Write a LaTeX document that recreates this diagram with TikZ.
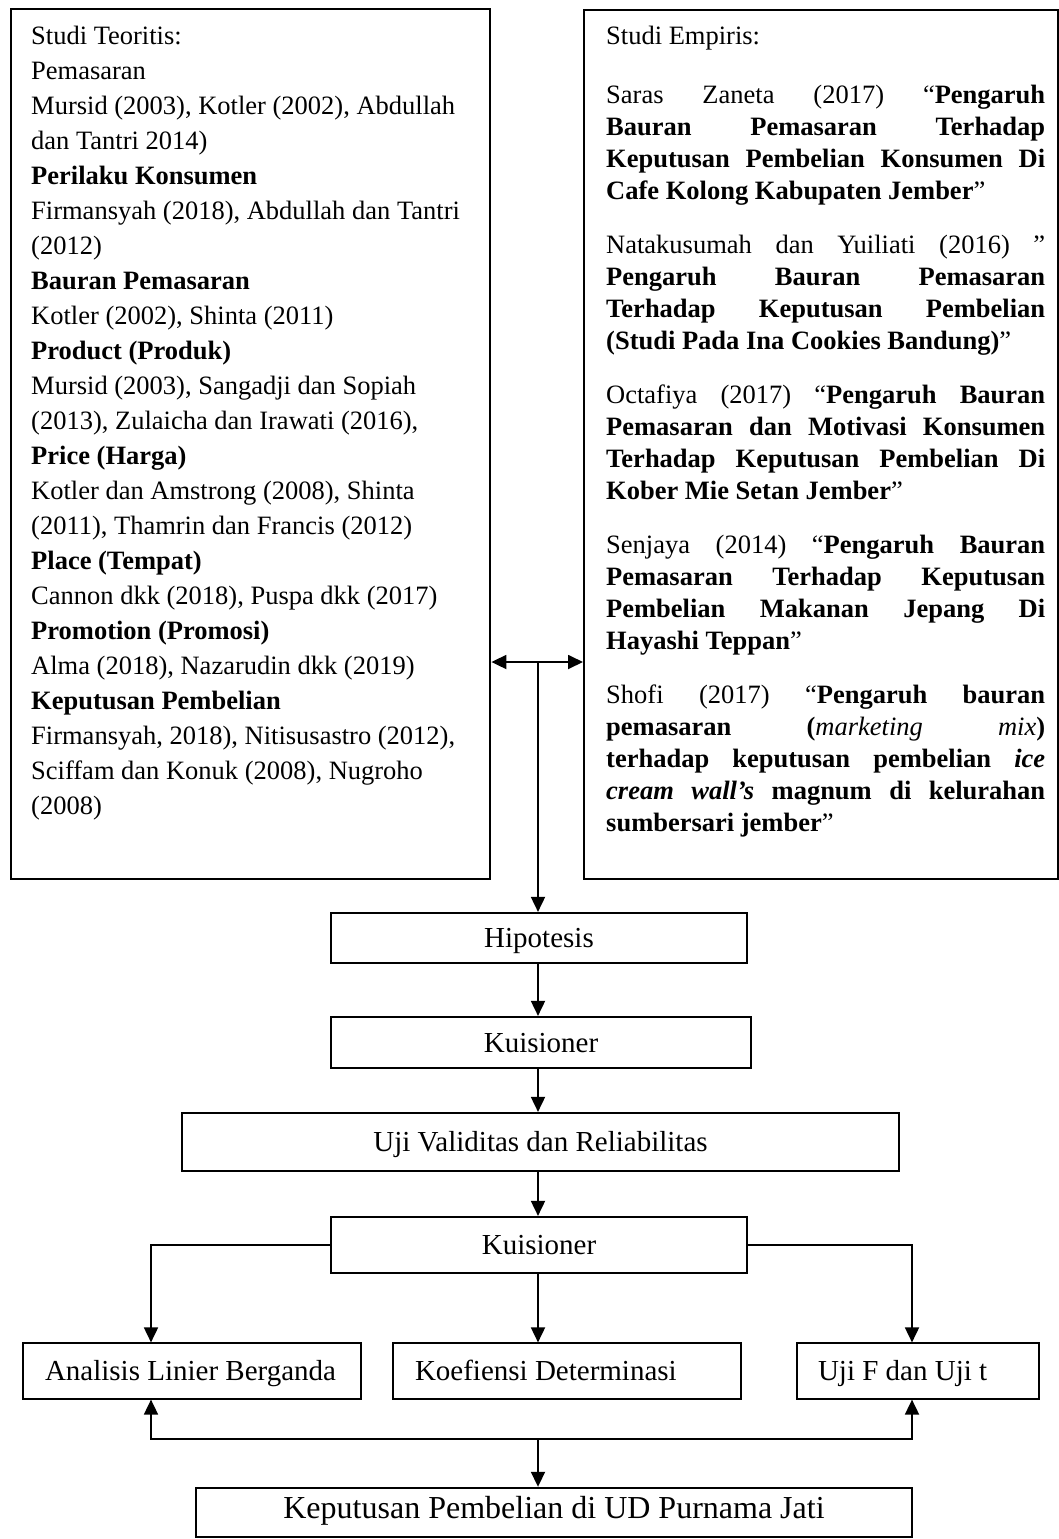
\documentclass[tikz,border=0pt]{standalone}
\usepackage{fontspec}
\setmainfont{Liberation Serif}
\usetikzlibrary{arrows.meta}
\newlength\rw
\setlength\rw{439pt}
\newcommand\jl[1]{\makebox[\rw][s]{#1}}
\begin{document}
\begin{tikzpicture}[x=1pt,y=-1pt,
  bigbox/.style={draw, line width=2.4pt, inner sep=0pt, anchor=north west},
  midbox/.style={draw, line width=2.2pt, inner sep=0pt, font=\fontsize{29}{35}\selectfont, text height=25pt, text depth=6pt},
  thinbox/.style={draw, line width=1.2pt, inner sep=0pt, font=\fontsize{29}{35}\selectfont, text height=24pt, text depth=6pt},
  conn/.style={line width=1.8pt, line cap=rect},
  arr/.style={conn, -{Triangle[length=15pt,width=14pt]}},
  txt/.style={anchor=north west, inner sep=0pt, align=left},
]
\useasboundingbox[fill=white] (0,0) rectangle (1059,1539);

% top boxes
\node[bigbox, minimum width=479pt, minimum height=870pt] (teori) at (10,8) {};
\node[bigbox, minimum width=474pt, minimum height=869pt] (empiris) at (583,9) {};

\node[txt, font=\fontsize{26.5}{35}\selectfont] (teoritext) at (31,20) {\strut Studi Teoritis:\\
Pemasaran\\
Mursid (2003), Kotler (2002), Abdullah\\
dan Tantri 2014)\\
\textbf{Perilaku Konsumen}\\
Firmansyah (2018), Abdullah dan Tantri\\
(2012)\\
\textbf{Bauran Pemasaran}\\
Kotler (2002), Shinta (2011)\\
\textbf{Product (Produk)}\\
Mursid (2003), Sangadji dan Sopiah\\
(2013), Zulaicha dan Irawati (2016),\\
\textbf{Price (Harga)}\\
Kotler dan Amstrong (2008), Shinta\\
(2011), Thamrin dan Francis (2012)\\
\textbf{Place (Tempat)}\\
Cannon dkk (2018), Puspa dkk (2017)\\
\textbf{Promotion (Promosi)}\\
Alma (2018), Nazarudin dkk (2019)\\
\textbf{Keputusan Pembelian}\\
Firmansyah, 2018), Nitisusastro (2012),\\
Sciffam dan Konuk (2008), Nugroho\\
(2008)};

\node[txt, font=\fontsize{26.5}{32}\selectfont] (empiristext) at (606,22.1) {\strut Studi Empiris:\\[27pt]
\jl{Saras Zaneta (2017) “\textbf{Pengaruh}}\\
\jl{\textbf{Bauran Pemasaran Terhadap}}\\
\jl{\textbf{Keputusan Pembelian Konsumen Di}}\\
\textbf{Cafe Kolong Kabupaten Jember}”\\[22pt]
\jl{Natakusumah dan Yuiliati (2016) ”}\\
\jl{\textbf{Pengaruh Bauran Pemasaran}}\\
\jl{\textbf{Terhadap Keputusan Pembelian}}\\
\textbf{(Studi Pada Ina Cookies Bandung)}”\\[22pt]
\jl{Octafiya (2017) “\textbf{Pengaruh Bauran}}\\
\jl{\textbf{Pemasaran dan Motivasi Konsumen}}\\
\jl{\textbf{Terhadap Keputusan Pembelian Di}}\\
\textbf{Kober Mie Setan Jember}”\\[22pt]
\jl{Senjaya (2014) “\textbf{Pengaruh Bauran}}\\
\jl{\textbf{Pemasaran Terhadap Keputusan}}\\
\jl{\textbf{Pembelian Makanan Jepang Di}}\\
\textbf{Hayashi Teppan}”\\[22pt]
\jl{Shofi (2017) “\textbf{Pengaruh bauran}}\\
\jl{\textbf{pemasaran (}\textit{marketing} \textit{mix}\textbf{)}}\\
\jl{\textbf{terhadap keputusan pembelian \textit{ice}}}\\
\jl{\textbf{\textit{cream wall’s} magnum di kelurahan}}\\
\textbf{sumbersari jember}”};

% middle chain
\node[midbox, minimum width=416pt, minimum height=50pt] (hip) at (539,938) {Hipotesis};
\node[midbox, minimum width=420pt, minimum height=51pt] (kui1) at (541,1042.5) {Kuisioner};
\node[midbox, minimum width=717pt, minimum height=58pt] (uji) at (540.5,1142) {Uji Validitas dan Reliabilitas};
\node[midbox, minimum width=416pt, minimum height=56pt] (kui2) at (539,1245) {Kuisioner};

\node[thinbox, minimum width=338pt, minimum height=56pt] (ana) at (192,1371) {\makebox[294pt][l]{Analisis Linier Berganda}};
\node[thinbox, minimum width=348pt, minimum height=56pt] (koef) at (567,1371) {\makebox[304pt][l]{Koefiensi Determinasi}};
\node[thinbox, minimum width=242pt, minimum height=56pt] (ujif) at (918,1371) {\makebox[200pt][l]{Uji F dan Uji t}};

\node[draw, line width=2.4pt, inner sep=0pt, minimum width=716pt, minimum height=49pt,
      font=\fontsize{32}{38}\selectfont, text height=22pt, text depth=11pt] (kep) at (554,1512.5) {Keputusan Pembelian di UD Purnama Jati};

% connectors
\coordinate (hub) at (538,662);
\coordinate (la) at (151,1439);
\coordinate (ra) at (912,1439);

\draw[arr] (hub) -- (hub -| teori.east);
\draw[arr] (hub) -- (hub -| empiris.west);
\draw[arr] (hub) -- (hub |- hip.north);
\draw[arr] (hub |- hip.south) -- (hub |- kui1.north);
\draw[arr] (hub |- kui1.south) -- (hub |- uji.north);
\draw[arr] (hub |- uji.south) -- (hub |- kui2.north);

\draw[arr] (kui2.west) -| (la |- ana.north);
\draw[arr] (kui2.east) -| (ra |- ujif.north);
\draw[arr] (hub |- kui2.south) -- (hub |- koef.north);

\draw[conn] (la) -- (ra);
\draw[arr] (la) -- (la |- ana.south);
\draw[arr] (ra) -- (ra |- ujif.south);
\draw[arr] (hub |- la) -- (hub |- kep.north);
\end{tikzpicture}
\end{document}
